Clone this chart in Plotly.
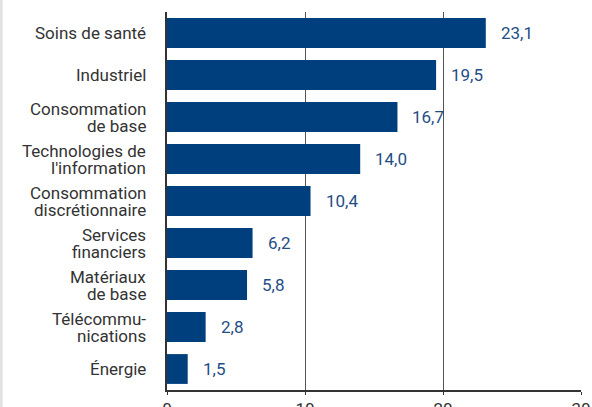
import plotly.graph_objects as go

categories = ["Soins de santé", "Industriel", "Consommation<br>de base",
              "Technologies de<br>l'information", "Consommation<br>discrétionnaire",
              "Services<br>financiers", "Matériaux<br>de base", "Télécommu-<br>nications", "Énergie"]
values = [23.1, 19.5, 16.7, 14.0, 10.4, 6.2, 5.8, 2.8, 1.5]
value_labels = ["23,1", "19,5", "16,7", "14,0", "10,4", "6,2", "5,8", "2,8", "1,5"]
x_ticks = [0, 10, 20, 30]

BLUE = "#003F7D"
FONT = "Roboto"
LINE_H = 17

fig = go.Figure()
fig.add_trace(go.Bar(
    y=categories, x=values, orientation="h",
    marker=dict(color=BLUE, line=dict(width=0)),
    hoverinfo="skip",
))

for c, v, t in zip(categories, values, value_labels):
    fig.add_annotation(x=v, y=c, text=t, showarrow=False, xanchor="left",
                       xshift=13, font=dict(family=FONT, size=17, color="#1F4E85"))

# category labels with tight line spacing
for c in categories:
    lines = c.split("<br>")
    n = len(lines)
    for i, ln in enumerate(lines):
        fig.add_annotation(x=0, xref="paper", y=c, yref="y", text=ln, showarrow=False,
                           xanchor="right", xshift=-19, yshift=((n - 1) / 2 - i) * LINE_H,
                           font=dict(family=FONT, size=17, color="#333333"))

# thin light-grey strip at the left edge of the page
fig.add_shape(type="rect", xref="paper", yref="paper", x0=-0.404, x1=-0.397,
              y0=-1, y1=2, fillcolor="#E2E2E2", line=dict(width=0), layer="below")

fig.update_layout(
    width=592, height=407,
    margin=dict(l=167, r=11, t=12, b=17, autoexpand=False),
    paper_bgcolor="white", plot_bgcolor="white",
    bargap=0.29, showlegend=False,
    font=dict(family=FONT, size=17, color="#333333"),
)
fig.update_xaxes(range=[0, 30], tickvals=x_ticks, ticktext=[str(v) for v in x_ticks],
                 showgrid=True, gridcolor="#555555", gridwidth=1,
                 showline=True, linecolor="#333333", linewidth=1.5,
                 ticks="outside", ticklen=3, tickcolor="#333333",
                 zeroline=False, fixedrange=True, automargin=False,
                 tickfont=dict(family=FONT, size=17, color="#333333"))
fig.update_yaxes(autorange="reversed", showline=True, linecolor="#333333", linewidth=1.5,
                 showgrid=False, ticks="", showticklabels=False, fixedrange=True,
                 automargin=False)

fig.write_html("out.html", config={"displayModeBar": False},
               post_script="document.body.style.margin='0px';document.body.style.overflow='hidden';")
